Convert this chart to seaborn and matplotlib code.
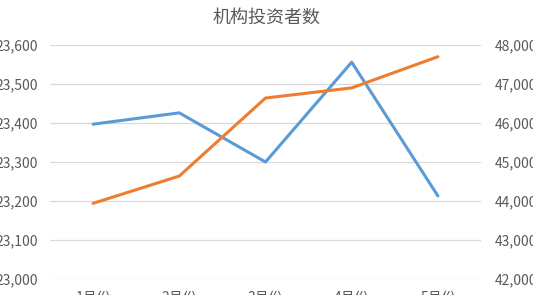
import matplotlib
matplotlib.use("Agg")
import matplotlib.pyplot as plt
import seaborn as sns
import pandas as pd
from matplotlib.ticker import FuncFormatter, FixedLocator

months = ["1月份", "2月份", "3月份", "4月份", "5月份"]
series_left = [23397, 23426, 23300, 23556, 23213]
series_right = [43940, 44640, 46640, 46900, 47700]
left_ticks = [23000, 23100, 23200, 23300, 23400, 23500, 23600]
right_ticks = [42000, 43000, 44000, 45000, 46000, 47000, 48000]
title = "机构投资者数"

sns.set_theme(style="white")
plt.rcParams['font.family'] = ['Noto Sans CJK SC', 'DejaVu Sans']

df = pd.DataFrame({"month": months, "left": series_left, "right": series_right})

fig = plt.figure(figsize=(5.33, 2.95), dpi=100)
ax = fig.add_axes([50/533, 1-279/295, 431/533, (279-45)/295])
ax2 = ax.twinx()

sns.lineplot(data=df, x="month", y="left", ax=ax, color="#5B9BD5", linewidth=2.2, sort=False)
sns.lineplot(data=df, x="month", y="right", ax=ax2, color="#ED7D31", linewidth=2.2, sort=False)

ax.set_xlim(-0.5, 4.5)
ax.set_ylim(23000, 23600)
ax2.set_ylim(42000, 48000)
ax.yaxis.set_major_locator(FixedLocator(left_ticks))
ax2.yaxis.set_major_locator(FixedLocator(right_ticks))
fmt = FuncFormatter(lambda v, p: f"{int(v):,}")
ax.yaxis.set_major_formatter(fmt)
ax2.yaxis.set_major_formatter(fmt)

ax.grid(axis="y", color="#D9D9D9", linewidth=0.9)
ax.grid(axis="x", visible=False)
ax2.grid(False)
for a in (ax, ax2):
    for s in a.spines.values():
        s.set_visible(False)
    a.set_xlabel("")
    a.set_ylabel("")
    a.tick_params(length=0, labelsize=10, colors="#595959")
ax.tick_params(axis="y", pad=9)
ax2.tick_params(axis="y", pad=10)
ax.tick_params(axis="x", pad=8.5)

fig.text(0.5, 1-18/295, title, ha="center", va="center", fontsize=13, color="#595959")

fig.savefig("out.png", dpi=100)
